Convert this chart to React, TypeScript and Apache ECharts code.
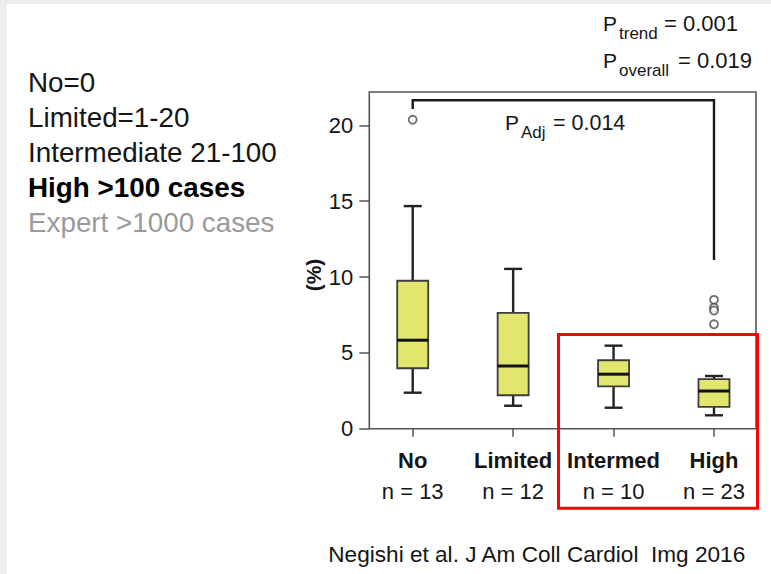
import React, { useEffect, useRef } from 'react';
import * as echarts from 'echarts';

// Experience groups and their sample sizes
const categories = ['No', 'Limited', 'Intermed', 'High'];
const groupSizes = [13, 12, 10, 23];

// Box-and-whisker statistics (%)
const lowerWhisker = [2.38, 1.52, 1.39, 0.89];
const lowerQuartile = [3.99, 2.21, 2.8, 1.44];
const medians = [5.84, 4.14, 3.6, 2.49];
const upperQuartile = [9.76, 7.64, 4.52, 3.28];
const upperWhisker = [14.68, 10.54, 5.48, 3.48];

// Outlying observations: group index and value
const outlierGroup = [0, 3, 3, 3, 3];
const outlierValues = [20.37, 8.5, 7.99, 7.8, 6.89];

// Comparison bracket between "No" and "High"
const bracketGroups = [0, 0, 3, 3];
const bracketValues = [21.08, 21.66, 21.66, 11.13];

const yTicks = [0, 5, 10, 15, 20];

const legendLines = ['No=0', 'Limited=1-20', 'Intermediate 21-100', 'High >100 cases', 'Expert >1000 cases'];
const pTrend = '= 0.001';
const pOverall = '= 0.019';
const pAdj = '= 0.014';
const citation = 'Negishi et al. J Am Coll Cardiol  Img 2016';

const FONT = '"Liberation Sans", Arial, Helvetica, sans-serif';
const INK = '#151515';
const BOX_FILL = '#e2e66f';

function txt(x: number, y: number, text: string, size: number, extra: any = {}) {
  return {
    type: 'text',
    x,
    y,
    z: 20,
    silent: true,
    style: {
      text,
      fill: extra.fill || INK,
      fontSize: size,
      fontFamily: FONT,
      fontWeight: extra.weight || 'normal',
      align: extra.align || 'left',
      textAlign: extra.align || 'left',
      verticalAlign: 'middle',
      textVerticalAlign: 'middle',
    },
    rotation: extra.rotation || 0,
  };
}

export default function App() {
  const ref = useRef<HTMLDivElement>(null);

  useEffect(() => {
    if (!ref.current) return;
    const chart = echarts.init(ref.current, null, { renderer: 'svg' });

    const boxData = categories.map((_, i) => [
      i,
      lowerWhisker[i],
      lowerQuartile[i],
      medians[i],
      upperQuartile[i],
      upperWhisker[i],
    ]);

    const legendColors = [INK, INK, INK, '#000', '#9a9a9a'];
    const legendWeights = ['normal', 'normal', 'normal', 'bold', 'normal'];

    const option: any = {
      animation: false,
      backgroundColor: '#fff',
      textStyle: { fontFamily: FONT },
      grid: { left: 362.5, top: 92, width: 401.7, height: 336.8 },
      xAxis: {
        type: 'category',
        data: categories,
        boundaryGap: true,
        axisLine: { show: false },
        axisTick: { show: true, alignWithLabel: true, length: 8, lineStyle: { color: '#555', width: 1.5 } },
        axisLabel: {
          margin: 16,
          interval: 0,
          formatter: (value: string, index: number) => `{a|${value}}\n{b|n = ${groupSizes[index]}}`,
          rich: {
            a: { fontSize: 22, fontWeight: 'bold', lineHeight: 31, color: INK, fontFamily: FONT },
            b: { fontSize: 22, lineHeight: 31, color: INK, fontFamily: FONT },
          },
        },
        splitLine: { show: false },
      },
      yAxis: {
        type: 'value',
        min: 0,
        max: 22.2,
        interval: 5,
        offset: -6.8,
        axisLine: { show: false },
        axisTick: { show: true, length: 10, customValues: yTicks, lineStyle: { color: '#555', width: 1.5 } },
        axisLabel: {
          margin: 16,
          customValues: yTicks,
          fontSize: 22,
          color: INK,
          fontFamily: FONT,
          formatter: (v: number) => (yTicks.indexOf(v) >= 0 ? String(v) : ''),
        },
        splitLine: { show: false },
      },
      series: [
        {
          type: 'custom',
          data: boxData,
          encode: { x: 0, y: [1, 2, 3, 4, 5] },
          z: 5,
          silent: true,
          renderItem: (params: any, api: any) => {
            const idx = api.value(0);
            const pLo = api.coord([idx, api.value(1)]);
            const pQ1 = api.coord([idx, api.value(2)]);
            const pMed = api.coord([idx, api.value(3)]);
            const pQ3 = api.coord([idx, api.value(4)]);
            const pHi = api.coord([idx, api.value(5)]);
            const x = pLo[0];
            const halfBox = 15.5;
            const halfCap = 9;
            const wStyle = { stroke: '#222', lineWidth: 2.4 };
            return {
              type: 'group',
              children: [
                { type: 'line', shape: { x1: x, y1: pHi[1], x2: x, y2: pQ3[1] }, style: wStyle },
                { type: 'line', shape: { x1: x, y1: pQ1[1], x2: x, y2: pLo[1] }, style: wStyle },
                { type: 'line', shape: { x1: x - halfCap, y1: pHi[1], x2: x + halfCap, y2: pHi[1] }, style: wStyle },
                { type: 'line', shape: { x1: x - halfCap, y1: pLo[1], x2: x + halfCap, y2: pLo[1] }, style: wStyle },
                {
                  type: 'rect',
                  shape: { x: x - halfBox, y: pQ3[1], width: halfBox * 2, height: pQ1[1] - pQ3[1] },
                  style: { fill: BOX_FILL, stroke: '#3c3c3c', lineWidth: 1.8 },
                },
                {
                  type: 'line',
                  shape: { x1: x - halfBox, y1: pMed[1], x2: x + halfBox, y2: pMed[1] },
                  style: { stroke: '#111', lineWidth: 3 },
                },
              ],
            };
          },
        },
        {
          type: 'scatter',
          data: outlierGroup.map((g, i) => [g, outlierValues[i]]),
          symbol: 'circle',
          symbolSize: 8,
          z: 6,
          silent: true,
          itemStyle: { color: '#fff', borderColor: '#4a4a4a', borderWidth: 1.8 },
        },
        {
          type: 'line',
          data: bracketGroups.map((g, i) => [g, bracketValues[i]]),
          symbol: 'none',
          silent: true,
          z: 6,
          lineStyle: { color: '#1a1a1a', width: 2.4, cap: 'butt', join: 'miter' },
        },
      ],
      graphic: [
        // slide edge shading
        { type: 'rect', z: 0, silent: true, shape: { x: 0, y: 0, width: 771, height: 4 }, style: { fill: '#eeeeee' } },
        { type: 'rect', z: 0, silent: true, shape: { x: 0, y: 0, width: 7, height: 574 }, style: { fill: '#eeeeee' } },
        // plot frame
        {
          type: 'rect',
          z: 1,
          silent: true,
          shape: { x: 369.3, y: 92, width: 386.7, height: 336.8 },
          style: { fill: 'none', stroke: '#555', lineWidth: 1.6 },
        },
        // highlight box around Intermed/High
        {
          type: 'rect',
          z: 50,
          silent: true,
          shape: { x: 558.5, y: 334.5, width: 199, height: 173.8 },
          style: { fill: 'none', stroke: '#ff0000', lineWidth: 3 },
        },
        // experience definitions
        ...legendLines.map((line, i) =>
          txt(28, 82.2 + i * 35, line, 27.8, { fill: legendColors[i], weight: legendWeights[i] })
        ),
        // y axis title
        txt(313.3, 275, '(%)', 21, { weight: 'bold', align: 'center', rotation: Math.PI / 2 }),
        // P values
        txt(603, 23.7, 'P', 21),
        txt(619, 33.8, 'trend', 17),
        txt(664, 23.7, pTrend, 22),
        txt(603, 60, 'P', 21),
        txt(619, 70.5, 'overall', 17),
        txt(678, 60, pOverall, 22),
        txt(505, 122.5, 'P', 21),
        txt(521, 132, 'Adj', 17),
        txt(553, 122.5, pAdj, 21.5),
        // source
        txt(328.3, 554, citation, 22.6),
      ],
    };

    chart.setOption(option);
    return () => chart.dispose();
  }, []);

  return (
    <div
      ref={ref}
      style={{ position: 'fixed', left: 0, top: 0, width: 771, height: 574, background: '#fff' }}
    />
  );
}
